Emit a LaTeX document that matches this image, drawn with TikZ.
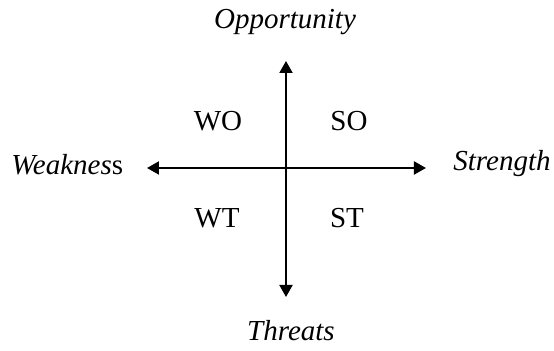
\documentclass[tikz,border=0pt]{standalone}
\usepackage{fontspec}
\setmainfont{Liberation Serif}
\usetikzlibrary{arrows.meta}

\begin{document}
\begin{tikzpicture}[x=0.5pt,y=-0.5pt,font=\fontsize{14.5}{17}\selectfont,
        axis/.style={{Triangle[length=6pt,width=6.5pt]}-{Triangle[length=6pt,width=6.5pt]}, line width=1pt}]
        \useasboundingbox (0,0) rectangle (554,351);
        \coordinate (top) at (286,61);
        \coordinate (bottom) at (286,297);
        \coordinate (left) at (147,168);
        \coordinate (right) at (426,168);
        \node (opp) at (285,22) {\textit{Opportunity}};
        \node (thr) at (291,331) {\textit{Threats}};
        \node[anchor=west, inner sep=0pt] (weak) at (11,165) {\textit{Weaknes}s};
        \node[anchor=west, inner sep=0pt] (str) at (453,164) {\textit{Strength}};
        \node (wo) at (218,121) {WO};
        \node (so) at (349,121) {SO};
        \node (wt) at (217,218) {WT};
        \node (st) at (347,218) {ST};
        \draw[axis] (top) -- (bottom);
        \draw[axis] (left) -- (right);
    \end{tikzpicture}
\end{document}
